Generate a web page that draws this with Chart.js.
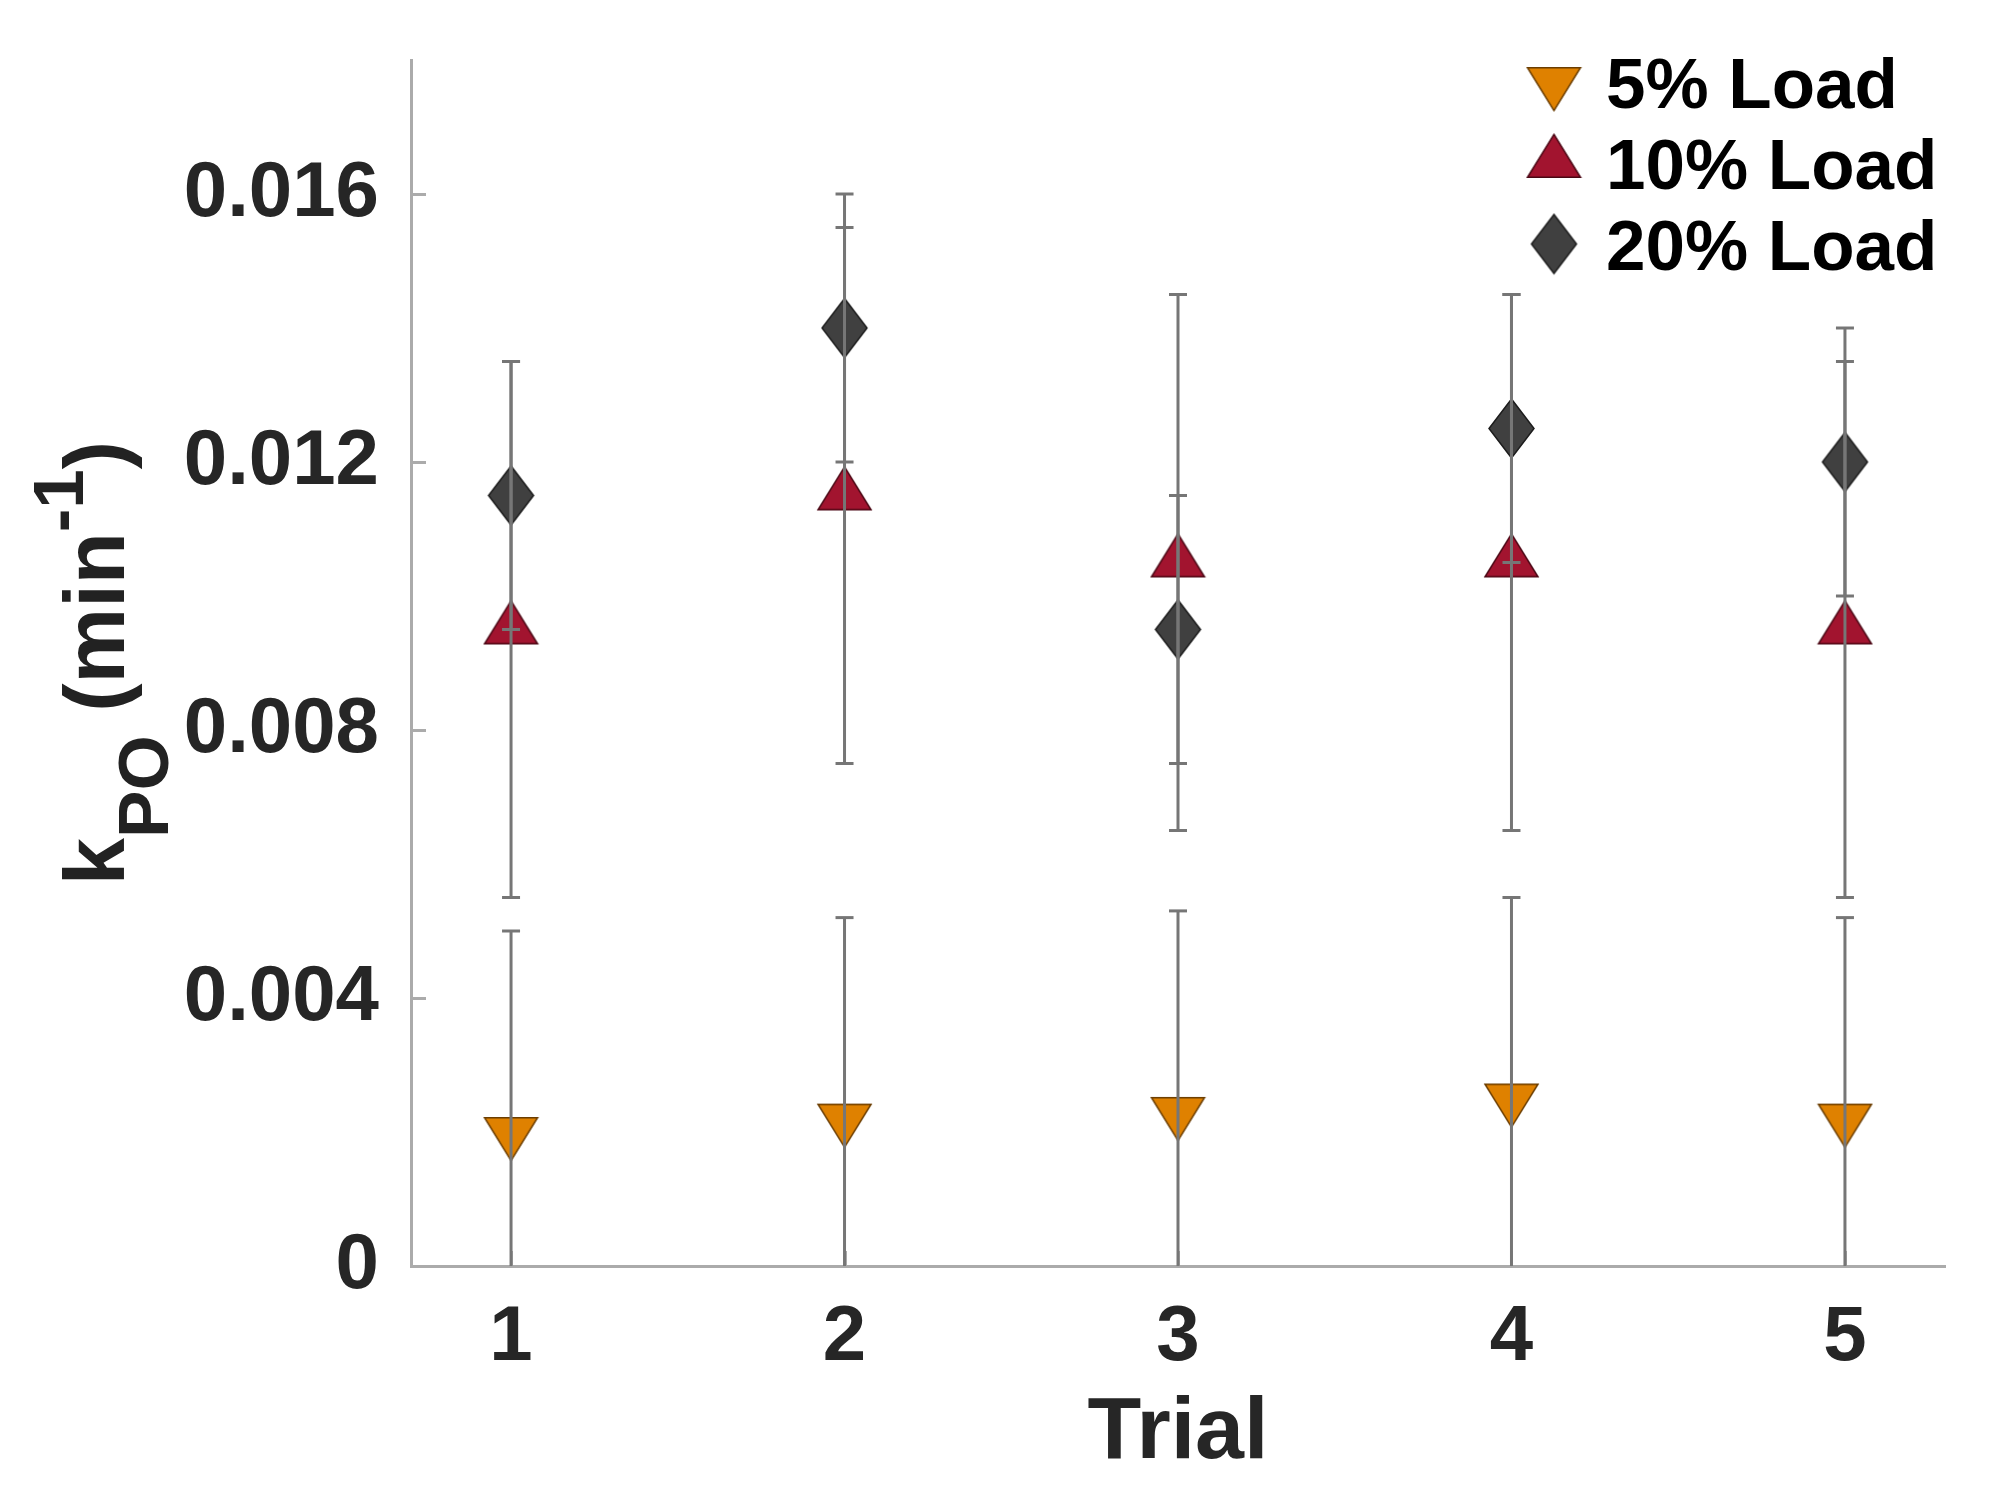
<!DOCTYPE html>
<html>
<head>
<meta charset="utf-8">
<script src="https://cdn.jsdelivr.net/npm/chart.js@4"></script>
<style>
html,body{margin:0;padding:0;background:#fff;}
canvas{display:block;}
</style>
</head>
<body>
<canvas id="c" width="1991" height="1506"></canvas>
<script>
// ---- data ----
const trials = [1, 2, 3, 4, 5];
const seriesLabels = ['5% Load', '10% Load', '20% Load'];
const load5  = [0.0020, 0.0022, 0.0023, 0.0025, 0.0022];
const err5   = [0.0030, 0.0030, 0.0030, 0.0030, 0.0030];
const load10 = [0.0095, 0.0115, 0.0105, 0.0105, 0.0095];
const err10  = [0.0040, 0.0040, 0.0040, 0.0040, 0.0040];
const load20 = [0.0115, 0.0140, 0.0095, 0.0125, 0.0120];
const err20  = [0.0020, 0.0020, 0.0020, 0.0020, 0.0020];
const yTicks = [0, 0.004, 0.008, 0.012, 0.016];
const yTickLabels = ['0', '0.004', '0.008', '0.012', '0.016'];
const xTickLabels = ['1', '2', '3', '4', '5'];

const FONT = '"Liberation Sans", Arial, Helvetica, sans-serif';
const AXIS_GRAY = '#ABABAB';
const ERR_GRAY = '#767676';

// ---- marker images ----
function triMarker(w, h, fill, edge, down) {
  const H = Math.ceil(4 / 3 * h) + 4, W = w + 4;
  const c = document.createElement('canvas');
  c.width = W; c.height = H;
  const g = c.getContext('2d');
  const cx = W / 2, cy = H / 2;
  g.beginPath();
  if (down) {
    g.moveTo(cx - w / 2, cy - h / 3);
    g.lineTo(cx + w / 2, cy - h / 3);
    g.lineTo(cx, cy + 2 * h / 3);
  } else {
    g.moveTo(cx, cy - 2 * h / 3);
    g.lineTo(cx + w / 2, cy + h / 3);
    g.lineTo(cx - w / 2, cy + h / 3);
  }
  g.closePath();
  g.fillStyle = fill; g.fill();
  g.lineWidth = 1.5; g.strokeStyle = edge; g.lineJoin = 'miter'; g.stroke();
  return c;
}
function diamondMarker(w, h, fill, edge) {
  const W = w + 4, H = h + 4;
  const c = document.createElement('canvas');
  c.width = W; c.height = H;
  const g = c.getContext('2d');
  const cx = W / 2, cy = H / 2;
  g.beginPath();
  g.moveTo(cx, cy - h / 2);
  g.lineTo(cx + w / 2, cy);
  g.lineTo(cx, cy + h / 2);
  g.lineTo(cx - w / 2, cy);
  g.closePath();
  g.fillStyle = fill; g.fill();
  g.lineWidth = 1.5; g.strokeStyle = edge; g.stroke();
  return c;
}
const mDown = triMarker(53, 43, '#DF8100', '#6b3d00', true);
const mUp = triMarker(53, 43, '#A2142F', '#4a0714', false);
const mDia = diamondMarker(45, 59, '#404040', '#1c1c1c');

const toPts = arr => trials.map((t, i) => ({ x: t, y: arr[i] }));

// ---- plugins ----
const axisTicksPlugin = {
  id: 'axisTicks',
  beforeDatasetsDraw(chart) {
    const { ctx, chartArea: a, scales: { x, y } } = chart;
    ctx.save();
    ctx.strokeStyle = AXIS_GRAY; ctx.lineWidth = 3;
    yTicks.forEach(v => {
      const py = Math.round(y.getPixelForValue(v)) + 0.5;
      ctx.beginPath(); ctx.moveTo(a.left, py); ctx.lineTo(a.left + 15, py); ctx.stroke();
    });
    trials.forEach(v => {
      const px = Math.round(x.getPixelForValue(v)) + 0.5;
      ctx.beginPath(); ctx.moveTo(px, a.bottom); ctx.lineTo(px, a.bottom - 15); ctx.stroke();
    });
    ctx.restore();
  }
};

const errorBarPlugin = {
  id: 'errorBars',
  afterDatasetsDraw(chart) {
    const { ctx, chartArea: a, scales: { x, y } } = chart;
    ctx.save();
    ctx.beginPath(); ctx.rect(a.left, a.top - 2, a.right - a.left, a.bottom - a.top + 2); ctx.clip();
    ctx.strokeStyle = ERR_GRAY; ctx.lineWidth = 3;
    chart.data.datasets.forEach(ds => {
      ds.data.forEach((p, i) => {
        const e = ds.errors[i];
        const px = x.getPixelForValue(p.x);
        const lo = p.y - e, hi = p.y + e;
        const pyHi = y.getPixelForValue(hi);
        const pyLo = y.getPixelForValue(Math.max(lo, 0));
        ctx.beginPath(); ctx.moveTo(px, pyHi); ctx.lineTo(px, pyLo); ctx.stroke();
        ctx.beginPath(); ctx.moveTo(px - 9, pyHi); ctx.lineTo(px + 9, pyHi); ctx.stroke();
        if (lo >= 0) {
          ctx.beginPath(); ctx.moveTo(px - 9, pyLo); ctx.lineTo(px + 9, pyLo); ctx.stroke();
        }
      });
    });
    ctx.restore();
  }
};

const yTitlePlugin = {
  id: 'yTitle',
  afterDraw(chart) {
    const { ctx, chartArea: a } = chart;
    const parts = [
      { t: 'k', size: 85, dy: 0 },
      { t: 'PO', size: 71, dy: 44 },
      { t: ' (min', size: 85, dy: 0 },
      { t: '-1', size: 71, dy: -41 },
      { t: ')', size: 85, dy: 0 }
    ];
    ctx.save();
    let total = 0;
    parts.forEach(p => { ctx.font = 'bold ' + p.size + 'px ' + FONT; p.w = ctx.measureText(p.t).width; total += p.w; });
    const cy = (a.top + a.bottom) / 2;
    const baseX = 124;
    ctx.translate(baseX, cy);
    ctx.rotate(-Math.PI / 2);
    ctx.fillStyle = '#222222';
    ctx.textBaseline = 'alphabetic';
    ctx.textAlign = 'left';
    let pos = -total / 2;
    parts.forEach(p => {
      ctx.font = 'bold ' + p.size + 'px ' + FONT;
      ctx.fillText(p.t, pos, p.dy);
      pos += p.w;
    });
    ctx.restore();
  }
};

const legendPlugin = {
  id: 'customLegend',
  afterDraw(chart) {
    const { ctx } = chart;
    const imgs = [mDown, mUp, mDia];
    const rowsCY = [82, 163, 244];
    ctx.save();
    ctx.font = 'bold 71px ' + FONT;
    ctx.fillStyle = '#000000';
    ctx.textBaseline = 'alphabetic';
    ctx.textAlign = 'left';
    chart.data.datasets.forEach((ds, i) => {
      const im = imgs[i];
      ctx.drawImage(im, 1554 - im.width / 2, rowsCY[i] - im.height / 2);
      ctx.fillText(ds.label, 1606, rowsCY[i] + 26);
    });
    ctx.restore();
  }
};

// ---- chart ----
new Chart(document.getElementById('c'), {
  type: 'scatter',
  data: {
    datasets: [
      { label: seriesLabels[0], data: toPts(load5), errors: err5, pointStyle: mDown, showLine: false },
      { label: seriesLabels[1], data: toPts(load10), errors: err10, pointStyle: mUp, showLine: false },
      { label: seriesLabels[2], data: toPts(load20), errors: err20, pointStyle: mDia, showLine: false }
    ]
  },
  options: {
    responsive: false,
    animation: false,
    devicePixelRatio: 1,
    layout: { padding: { top: 60, right: 46, left: 0, bottom: 0 } },
    plugins: { legend: { display: false }, tooltip: { enabled: false } },
    scales: {
      x: {
        type: 'linear', min: 0.7, max: 5.3,
        afterBuildTicks: s => { s.ticks = trials.map(v => ({ value: v })); },
        afterFit: s => { s.height = 240; s.paddingLeft = 0; s.paddingRight = 0; },
        grid: { display: false },
        border: { display: true, color: AXIS_GRAY, width: 3 },
        ticks: {
          padding: 18, color: '#262626',
          font: { family: FONT, size: 78, weight: 'bold' },
          callback: v => xTickLabels[trials.indexOf(v)]
        },
        title: {
          display: true, text: 'Trial', color: '#262626',
          font: { family: FONT, size: 88, weight: 'bold' },
          padding: { top: 0, bottom: 19 }
        }
      },
      y: {
        min: 0, max: 0.018,
        afterBuildTicks: s => { s.ticks = yTicks.map(v => ({ value: v })); },
        afterFit: s => { s.width = 411; s.paddingTop = 0; s.paddingBottom = 0; },
        grid: { display: false },
        border: { display: true, color: AXIS_GRAY, width: 3 },
        ticks: {
          padding: 24, color: '#262626',
          font: { family: FONT, size: 78, weight: 'bold' },
          callback: v => {
            const i = yTicks.findIndex(t => Math.abs(t - v) < 1e-9);
            return i >= 0 ? yTickLabels[i] : '';
          }
        }
      }
    }
  },
  plugins: [axisTicksPlugin, errorBarPlugin, yTitlePlugin, legendPlugin]
});
</script>
</body>
</html>
